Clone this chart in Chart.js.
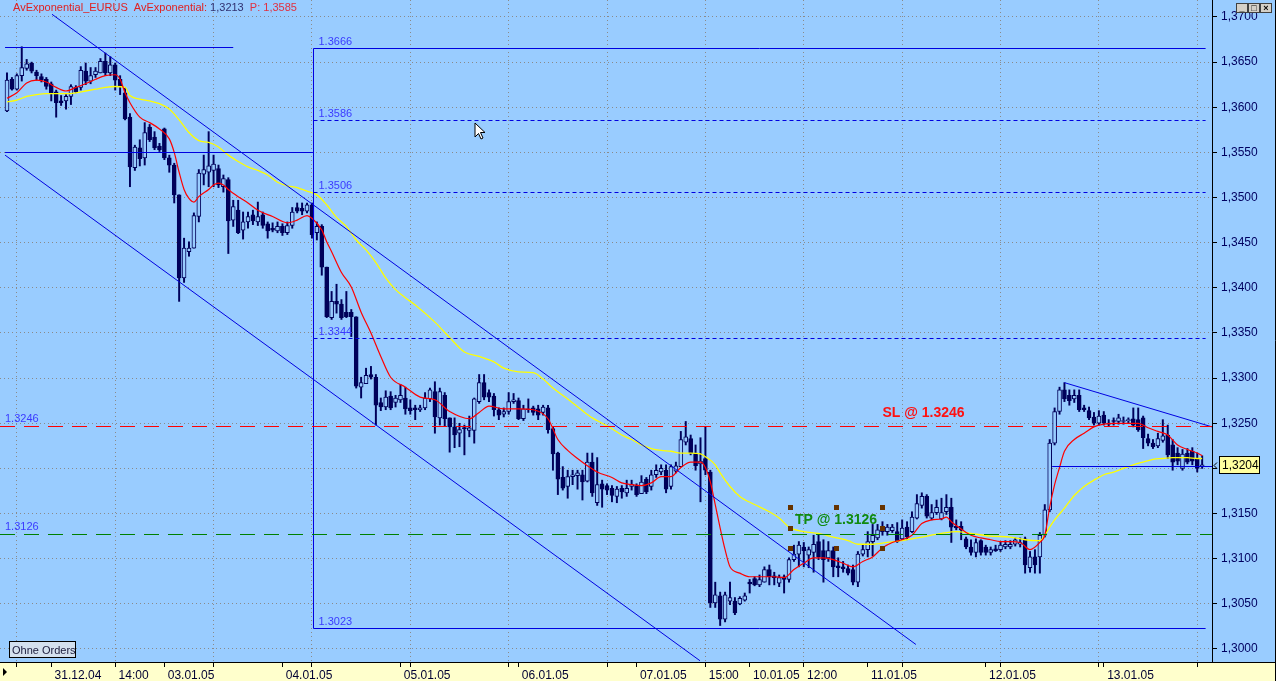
<!DOCTYPE html>
<html>
<head>
<meta charset="utf-8">
<script src="https://cdn.jsdelivr.net/npm/chart.js@4.4.1/dist/chart.umd.min.js"></script>
<style>
  html, body { margin: 0; padding: 0; background: #99ccff; }
  #wrap { position: relative; width: 1276px; height: 681px; }
</style>
</head>
<body>
<div id="wrap"><canvas id="chart"></canvas></div>
<script>
// EURUSD, 1 hour bars, 31.12.04 - 13.01.05
const open = [
  1.3596, 1.3631, 1.3620, 1.3635, 1.3643, 1.3649, 1.3639, 1.3634, 1.3631, 1.3626, 1.3617, 1.3607,
  1.3607, 1.3612, 1.3622, 1.3622, 1.3640, 1.3629, 1.3636, 1.3638, 1.3651, 1.3638, 1.3647, 1.3631,
  1.3616, 1.3589, 1.3533, 1.3555, 1.3544, 1.3578, 1.3567, 1.3557, 1.3576, 1.3544, 1.3536, 1.3503,
  1.3411, 1.3440, 1.3444, 1.3479, 1.3526, 1.3528, 1.3530, 1.3532, 1.3512, 1.3520, 1.3475, 1.3486,
  1.3464, 1.3473, 1.3481, 1.3473, 1.3481, 1.3471, 1.3466, 1.3463, 1.3468, 1.3461, 1.3469, 1.3489,
  1.3488, 1.3485, 1.3492, 1.3461, 1.3468, 1.3423, 1.3367, 1.3385, 1.3382, 1.3373, 1.3373, 1.3368,
  1.3290, 1.3294, 1.3304, 1.3301, 1.3273, 1.3268, 1.3280, 1.3273, 1.3276, 1.3278, 1.3267, 1.3267,
  1.3265, 1.3267, 1.3277, 1.3285, 1.3256, 1.3281, 1.3256, 1.3246, 1.3239, 1.3245, 1.3242, 1.3242,
  1.3274, 1.3295, 1.3284, 1.3280, 1.3265, 1.3260, 1.3263, 1.3274, 1.3275, 1.3255, 1.3266, 1.3267,
  1.3266, 1.3262, 1.3267, 1.3244, 1.3217, 1.3190, 1.3180, 1.3191, 1.3192, 1.3193, 1.3186, 1.3207,
  1.3162, 1.3183, 1.3181, 1.3178, 1.3169, 1.3178, 1.3173, 1.3180, 1.3181, 1.3172, 1.3188, 1.3180,
  1.3193, 1.3196, 1.3198, 1.3180, 1.3197, 1.3202, 1.3229, 1.3233, 1.3217, 1.3205, 1.3211, 1.3196,
  1.3051, 1.3059, 1.3033, 1.3053, 1.3053, 1.3050, 1.3054, 1.3074, 1.3078, 1.3071, 1.3074, 1.3088,
  1.3081, 1.3073, 1.3080, 1.3077, 1.3099, 1.3105, 1.3113, 1.3104, 1.3107, 1.3119, 1.3109, 1.3101,
  1.3109, 1.3092, 1.3091, 1.3089, 1.3088, 1.3074, 1.3105, 1.3110, 1.3119, 1.3123, 1.3130, 1.3130,
  1.3131, 1.3130, 1.3122, 1.3135, 1.3130, 1.3145, 1.3159, 1.3169, 1.3145, 1.3151, 1.3144, 1.3152,
  1.3157, 1.3136, 1.3136, 1.3122, 1.3113, 1.3107, 1.3120, 1.3113, 1.3107, 1.3111, 1.3110, 1.3113,
  1.3113, 1.3116, 1.3116, 1.3122, 1.3090, 1.3102, 1.3102, 1.3126, 1.3154, 1.3228, 1.3263, 1.3287,
  1.3281, 1.3277, 1.3281, 1.3267, 1.3264, 1.3257, 1.3250, 1.3259, 1.3250, 1.3253, 1.3252, 1.3252,
  1.3253, 1.3255, 1.3254, 1.3256, 1.3233, 1.3228, 1.3225, 1.3231, 1.3237, 1.3226, 1.3217, 1.3200,
  1.3217, 1.3219, 1.3210, 1.3202
];
const high = [
  1.3638, 1.3633, 1.3637, 1.3667, 1.3653, 1.3650, 1.3641, 1.3637, 1.3633, 1.3628, 1.3619, 1.3613,
  1.3614, 1.3625, 1.3624, 1.3645, 1.3649, 1.3644, 1.3644, 1.3654, 1.3660, 1.3656, 1.3649, 1.3635,
  1.3622, 1.3593, 1.3558, 1.3564, 1.3583, 1.3581, 1.3573, 1.3560, 1.3577, 1.3547, 1.3538, 1.3503,
  1.3455, 1.3451, 1.3483, 1.3531, 1.3547, 1.3573, 1.3547, 1.3536, 1.3525, 1.3522, 1.3497, 1.3497,
  1.3484, 1.3484, 1.3486, 1.3495, 1.3484, 1.3473, 1.3472, 1.3473, 1.3471, 1.3473, 1.3489, 1.3494,
  1.3494, 1.3494, 1.3494, 1.3473, 1.3470, 1.3423, 1.3396, 1.3404, 1.3387, 1.3396, 1.3376, 1.3368,
  1.3301, 1.3311, 1.3313, 1.3304, 1.3278, 1.3286, 1.3285, 1.3281, 1.3293, 1.3290, 1.3276, 1.3270,
  1.3270, 1.3284, 1.3289, 1.3296, 1.3289, 1.3284, 1.3256, 1.3256, 1.3250, 1.3248, 1.3258, 1.3278,
  1.3304, 1.3304, 1.3287, 1.3283, 1.3267, 1.3267, 1.3284, 1.3283, 1.3278, 1.3270, 1.3277, 1.3269,
  1.3270, 1.3270, 1.3270, 1.3246, 1.3218, 1.3202, 1.3198, 1.3198, 1.3198, 1.3198, 1.3217, 1.3217,
  1.3212, 1.3187, 1.3183, 1.3181, 1.3180, 1.3181, 1.3187, 1.3187, 1.3183, 1.3192, 1.3190, 1.3198,
  1.3204, 1.3204, 1.3204, 1.3204, 1.3207, 1.3241, 1.3252, 1.3237, 1.3226, 1.3234, 1.3246, 1.3198,
  1.3074, 1.3063, 1.3063, 1.3074, 1.3057, 1.3058, 1.3062, 1.3077, 1.3080, 1.3082, 1.3091, 1.3093,
  1.3085, 1.3082, 1.3082, 1.3101, 1.3115, 1.3119, 1.3118, 1.3113, 1.3126, 1.3126, 1.3121, 1.3119,
  1.3113, 1.3101, 1.3097, 1.3093, 1.3093, 1.3108, 1.3115, 1.3130, 1.3138, 1.3138, 1.3141, 1.3138,
  1.3138, 1.3140, 1.3143, 1.3141, 1.3152, 1.3171, 1.3173, 1.3171, 1.3160, 1.3165, 1.3167, 1.3171,
  1.3167, 1.3143, 1.3141, 1.3124, 1.3121, 1.3122, 1.3121, 1.3115, 1.3113, 1.3115, 1.3119, 1.3120,
  1.3120, 1.3123, 1.3123, 1.3124, 1.3108, 1.3110, 1.3129, 1.3160, 1.3232, 1.3267, 1.3290, 1.3295,
  1.3287, 1.3287, 1.3287, 1.3270, 1.3268, 1.3262, 1.3264, 1.3263, 1.3254, 1.3256, 1.3260, 1.3257,
  1.3256, 1.3267, 1.3267, 1.3258, 1.3238, 1.3232, 1.3239, 1.3254, 1.3248, 1.3232, 1.3223, 1.3221,
  1.3222, 1.3223, 1.3217, 1.3214
];
const low = [
  1.3595, 1.3619, 1.3619, 1.3629, 1.3641, 1.3638, 1.3630, 1.3628, 1.3620, 1.3607, 1.3589, 1.3602,
  1.3598, 1.3603, 1.3616, 1.3619, 1.3625, 1.3626, 1.3633, 1.3638, 1.3635, 1.3635, 1.3619, 1.3614,
  1.3586, 1.3512, 1.3530, 1.3535, 1.3536, 1.3562, 1.3553, 1.3551, 1.3542, 1.3528, 1.3494, 1.3385,
  1.3406, 1.3435, 1.3444, 1.3473, 1.3514, 1.3512, 1.3512, 1.3511, 1.3506, 1.3438, 1.3468, 1.3460,
  1.3454, 1.3466, 1.3470, 1.3469, 1.3466, 1.3455, 1.3462, 1.3461, 1.3458, 1.3459, 1.3466, 1.3483,
  1.3481, 1.3483, 1.3455, 1.3453, 1.3414, 1.3367, 1.3365, 1.3372, 1.3365, 1.3367, 1.3346, 1.3289,
  1.3278, 1.3294, 1.3299, 1.3248, 1.3264, 1.3265, 1.3265, 1.3268, 1.3273, 1.3260, 1.3260, 1.3254,
  1.3263, 1.3265, 1.3274, 1.3239, 1.3248, 1.3247, 1.3218, 1.3223, 1.3224, 1.3215, 1.3235, 1.3228,
  1.3272, 1.3276, 1.3274, 1.3258, 1.3254, 1.3257, 1.3260, 1.3272, 1.3254, 1.3253, 1.3262, 1.3259,
  1.3254, 1.3259, 1.3239, 1.3198, 1.3171, 1.3176, 1.3167, 1.3182, 1.3177, 1.3165, 1.3185, 1.3169,
  1.3159, 1.3157, 1.3171, 1.3163, 1.3162, 1.3167, 1.3169, 1.3176, 1.3169, 1.3172, 1.3172, 1.3176,
  1.3190, 1.3193, 1.3173, 1.3177, 1.3195, 1.3202, 1.3226, 1.3215, 1.3198, 1.3163, 1.3193, 1.3046,
  1.3046, 1.3026, 1.3030, 1.3049, 1.3038, 1.3049, 1.3053, 1.3062, 1.3070, 1.3069, 1.3074, 1.3071,
  1.3071, 1.3069, 1.3062, 1.3074, 1.3097, 1.3091, 1.3091, 1.3090, 1.3085, 1.3099, 1.3074, 1.3097,
  1.3080, 1.3080, 1.3085, 1.3082, 1.3071, 1.3069, 1.3103, 1.3102, 1.3103, 1.3121, 1.3126, 1.3126,
  1.3129, 1.3118, 1.3121, 1.3121, 1.3129, 1.3144, 1.3156, 1.3145, 1.3143, 1.3149, 1.3143, 1.3149,
  1.3118, 1.3132, 1.3121, 1.3111, 1.3104, 1.3102, 1.3104, 1.3104, 1.3104, 1.3108, 1.3108, 1.3111,
  1.3111, 1.3114, 1.3113, 1.3084, 1.3085, 1.3084, 1.3084, 1.3124, 1.3152, 1.3226, 1.3260, 1.3274,
  1.3270, 1.3273, 1.3263, 1.3263, 1.3254, 1.3248, 1.3248, 1.3248, 1.3247, 1.3248, 1.3249, 1.3249,
  1.3250, 1.3246, 1.3241, 1.3222, 1.3225, 1.3222, 1.3223, 1.3229, 1.3211, 1.3198, 1.3204, 1.3198,
  1.3205, 1.3204, 1.3196, 1.3200
];
const close = [
  1.3630, 1.3620, 1.3635, 1.3644, 1.3648, 1.3640, 1.3635, 1.3630, 1.3623, 1.3616, 1.3605, 1.3605,
  1.3612, 1.3623, 1.3617, 1.3641, 1.3629, 1.3635, 1.3640, 1.3651, 1.3638, 1.3647, 1.3630, 1.3623,
  1.3587, 1.3534, 1.3556, 1.3543, 1.3572, 1.3564, 1.3555, 1.3553, 1.3544, 1.3536, 1.3503, 1.3411,
  1.3444, 1.3444, 1.3480, 1.3527, 1.3531, 1.3535, 1.3537, 1.3514, 1.3521, 1.3474, 1.3490, 1.3461,
  1.3473, 1.3479, 1.3474, 1.3479, 1.3469, 1.3463, 1.3464, 1.3468, 1.3461, 1.3469, 1.3484, 1.3485,
  1.3485, 1.3492, 1.3459, 1.3468, 1.3423, 1.3368, 1.3385, 1.3382, 1.3367, 1.3368, 1.3368, 1.3291,
  1.3295, 1.3303, 1.3301, 1.3270, 1.3268, 1.3279, 1.3267, 1.3278, 1.3281, 1.3266, 1.3264, 1.3265,
  1.3267, 1.3278, 1.3287, 1.3257, 1.3285, 1.3255, 1.3246, 1.3237, 1.3243, 1.3244, 1.3245, 1.3277,
  1.3295, 1.3279, 1.3279, 1.3265, 1.3259, 1.3263, 1.3274, 1.3276, 1.3255, 1.3266, 1.3265, 1.3262,
  1.3259, 1.3268, 1.3243, 1.3216, 1.3188, 1.3178, 1.3191, 1.3193, 1.3195, 1.3185, 1.3207, 1.3173,
  1.3182, 1.3177, 1.3176, 1.3170, 1.3177, 1.3174, 1.3178, 1.3182, 1.3171, 1.3185, 1.3174, 1.3193,
  1.3198, 1.3200, 1.3177, 1.3202, 1.3203, 1.3232, 1.3235, 1.3217, 1.3203, 1.3208, 1.3198, 1.3051,
  1.3060, 1.3033, 1.3060, 1.3057, 1.3040, 1.3056, 1.3059, 1.3072, 1.3071, 1.3077, 1.3088, 1.3080,
  1.3079, 1.3079, 1.3077, 1.3099, 1.3105, 1.3115, 1.3109, 1.3110, 1.3116, 1.3102, 1.3099, 1.3109,
  1.3091, 1.3090, 1.3089, 1.3084, 1.3074, 1.3105, 1.3110, 1.3119, 1.3126, 1.3132, 1.3136, 1.3135,
  1.3135, 1.3119, 1.3134, 1.3124, 1.3146, 1.3161, 1.3169, 1.3147, 1.3151, 1.3157, 1.3151, 1.3157,
  1.3135, 1.3134, 1.3132, 1.3113, 1.3107, 1.3118, 1.3107, 1.3107, 1.3110, 1.3109, 1.3115, 1.3116,
  1.3116, 1.3121, 1.3118, 1.3093, 1.3102, 1.3093, 1.3126, 1.3154, 1.3228, 1.3263, 1.3287, 1.3277,
  1.3275, 1.3281, 1.3265, 1.3265, 1.3256, 1.3250, 1.3258, 1.3250, 1.3249, 1.3252, 1.3256, 1.3253,
  1.3254, 1.3248, 1.3243, 1.3234, 1.3228, 1.3224, 1.3233, 1.3236, 1.3215, 1.3207, 1.3208, 1.3216,
  1.3207, 1.3208, 1.3200, 1.3204
];
const bars = open.map((_, i) => i);

// the two moving averages at these bars
const redBars = [0, 2, 4, 6, 8, 10, 12, 14, 16, 18, 20, 22, 23, 24, 25, 27, 29, 31, 33, 34, 35, 36, 37, 38, 39,
  41, 42, 43, 44, 45, 47, 49, 51, 54, 57, 59, 61, 62, 64, 65, 66, 68, 70, 72, 74, 76, 78, 81, 84, 87, 90,
  94, 96, 98, 101, 104, 107, 110, 112, 114, 116, 118, 120, 123, 125, 127, 129, 131, 133, 135, 137, 139,
  141, 142, 143, 144, 145, 146, 147, 149, 151, 153, 156, 158, 160, 162, 164, 166, 168, 170, 172, 174, 176,
  178, 180, 182, 184, 186, 188, 190, 191, 192, 194, 196, 198, 200, 202, 204, 206, 208, 210, 211, 212, 213,
  214, 215, 217, 219, 221, 223, 225, 228, 230, 232, 234, 236, 238, 240, 242, 243];
const redEma = [1.3610, 1.3616, 1.3627, 1.3630, 1.3628, 1.3622, 1.3618, 1.3622, 1.3626, 1.3631, 1.3635, 1.3636,
  1.3631, 1.3616, 1.3605, 1.3589, 1.3583, 1.3576, 1.3565, 1.3550, 1.3528, 1.3509, 1.3499, 1.3495, 1.3501,
  1.3509, 1.3514, 1.3516, 1.3514, 1.3509, 1.3501, 1.3494, 1.3486, 1.3479, 1.3472, 1.3475, 1.3480, 1.3477,
  1.3464, 1.3451, 1.3440, 1.3417, 1.3401, 1.3373, 1.3350, 1.3324, 1.3301, 1.3290, 1.3279, 1.3276, 1.3263,
  1.3255, 1.3262, 1.3269, 1.3266, 1.3266, 1.3265, 1.3255, 1.3232, 1.3220, 1.3211, 1.3203, 1.3196, 1.3190,
  1.3184, 1.3182, 1.3181, 1.3184, 1.3191, 1.3191, 1.3201, 1.3207, 1.3207, 1.3201, 1.3185, 1.3160, 1.3134,
  1.3110, 1.3091, 1.3084, 1.3080, 1.3080, 1.3080, 1.3079, 1.3088, 1.3095, 1.3101, 1.3101, 1.3099, 1.3095,
  1.3091, 1.3097, 1.3102, 1.3112, 1.3118, 1.3121, 1.3126, 1.3139, 1.3143, 1.3144, 1.3146, 1.3141, 1.3133,
  1.3126, 1.3123, 1.3121, 1.3119, 1.3119, 1.3118, 1.3110, 1.3118, 1.3126, 1.3157, 1.3182, 1.3201, 1.3219,
  1.3232, 1.3239, 1.3246, 1.3249, 1.3250, 1.3250, 1.3250, 1.3245, 1.3241, 1.3237, 1.3226, 1.3221, 1.3217, 1.3214];
const yellowBars = [0, 2, 4, 6, 8, 10, 12, 14, 16, 18, 20, 22, 24, 25, 27, 29, 31, 33, 35, 37, 39, 41, 43, 45,
  47, 49, 51, 53, 55, 57, 59, 61, 63, 65, 67, 69, 71, 73, 75, 77, 79, 81, 83, 87, 90, 93, 96, 99, 101, 104,
  107, 109, 111, 114, 117, 119, 121, 123, 125, 127, 129, 131, 133, 135, 137, 139, 141, 142, 144, 145, 147,
  149, 152, 155, 157, 159, 162, 165, 168, 171, 173, 176, 179, 182, 184, 186, 190, 193, 196, 200, 204, 207,
  210, 211, 212, 213, 215, 217, 219, 221, 223, 225, 227, 229, 231, 233, 235, 237, 240, 242, 243];
const yellowEma = [1.3606, 1.3608, 1.3612, 1.3614, 1.3615, 1.3615, 1.3615, 1.3616, 1.3618, 1.3620, 1.3622, 1.3623,
  1.3622, 1.3613, 1.3609, 1.3607, 1.3604, 1.3598, 1.3586, 1.3572, 1.3563, 1.3561, 1.3556, 1.3547, 1.3540,
  1.3534, 1.3530, 1.3525, 1.3517, 1.3513, 1.3511, 1.3507, 1.3503, 1.3492, 1.3478, 1.3468, 1.3453, 1.3442,
  1.3428, 1.3411, 1.3398, 1.3389, 1.3381, 1.3362, 1.3345, 1.3329, 1.3324, 1.3318, 1.3311, 1.3307, 1.3306,
  1.3299, 1.3289, 1.3277, 1.3264, 1.3256, 1.3250, 1.3244, 1.3237, 1.3232, 1.3226, 1.3222, 1.3220, 1.3219,
  1.3217, 1.3217, 1.3216, 1.3213, 1.3204, 1.3195, 1.3180, 1.3169, 1.3160, 1.3152, 1.3145, 1.3135, 1.3130,
  1.3128, 1.3124, 1.3120, 1.3116, 1.3116, 1.3118, 1.3120, 1.3122, 1.3124, 1.3128, 1.3130, 1.3128, 1.3125,
  1.3124, 1.3121, 1.3120, 1.3126, 1.3135, 1.3143, 1.3156, 1.3170, 1.3180, 1.3187, 1.3193, 1.3196, 1.3200,
  1.3204, 1.3207, 1.3210, 1.3211, 1.3212, 1.3212, 1.3211, 1.3211];

// time axis
const dateBars = [9, 22, 32, 56, 80, 104, 128, 142, 151, 162, 175, 199, 223];
const dateLabels = ['31.12.04', '14:00', '03.01.05', '04.01.05', '05.01.05', '06.01.05', '07.01.05',
  '15:00', '10.01.05', '12:00', '11.01.05', '12.01.05', '13.01.05'];
const gridBars = [2, 22, 42, 62, 82, 102, 122, 142, 162, 182, 202, 222, 242];

// drawings on the chart
const fibLevels = [1.3666, 1.3586, 1.3506, 1.3344, 1.3023];
const fibStart = 62.2, fibEnd = 243.7;
const slPrice = 1.3246, tpPrice = 1.3126;
const lastPrice = 1.3204;
const trendLines = [
  [[9.15, 1.3703], [184.8, 1.3005]],
  [[-0.4, 1.3547], [140.9, 1.2987]],
  [[215, 1.3295], [245, 1.3246]],
  [[-0.4, 1.3667], [46, 1.3667]],
  [[-0.4, 1.3550], [62.2, 1.3550]],
  [[212.5, 1.3203], [245, 1.3203]]
];
const handleBars = [159.2, 168.6, 177.9];
const handlePrices = [1.3157, 1.3134, 1.3112];

const BG = '#99ccff';
const STRIP = '#ffffcc';
const NAVY = '#00005a';
const BLUE = '#0000e0';
const FONT = 'Arial, "Liberation Sans", sans-serif';

Chart.defaults.font.family = FONT;

function fullSeries(idx, vals) {
  const out = bars.map(() => null);
  idx.forEach((b, k) => { out[b] = vals[k]; });
  return out;
}

function seg(ctx, x1, y1, x2, y2) {
  ctx.beginPath();
  ctx.moveTo(x1, y1);
  ctx.lineTo(x2, y2);
  ctx.stroke();
}

const drawings = {
  id: 'drawings',
  beforeDraw(chart) {
    const { ctx, width, height, chartArea: a } = chart;
    ctx.save();
    ctx.fillStyle = BG;
    ctx.fillRect(0, 0, width, height);
    ctx.fillStyle = STRIP;
    ctx.fillRect(0, a.bottom, width, height - a.bottom);
    ctx.restore();
  },
  afterDatasetsDraw(chart) {
    const { ctx, chartArea: a, scales: { x, y } } = chart;
    const X = v => x.getPixelForValue(v);
    const Y = v => Math.round(y.getPixelForValue(v)) + 0.5;
    ctx.save();
    ctx.beginPath();
    ctx.rect(a.left, a.top, a.right - a.left, a.bottom - a.top);
    ctx.clip();
    ctx.lineWidth = 1;

    // fibonacci box
    ctx.strokeStyle = BLUE;
    const fx = Math.round(X(fibStart)) + 0.5;
    seg(ctx, fx, Y(fibLevels[0]), fx, Y(fibLevels[fibLevels.length - 1]));
    fibLevels.forEach((p, k) => {
      const solid = k === 0 || k === fibLevels.length - 1;
      ctx.setLineDash(solid ? [] : [4, 3]);
      seg(ctx, fx, Y(p), X(fibEnd), Y(p));
    });
    ctx.setLineDash([]);
    ctx.font = '11px ' + FONT;
    ctx.fillStyle = '#3a3aff';
    ctx.textBaseline = 'alphabetic';
    fibLevels.forEach(p => ctx.fillText(p.toFixed(4), fx + 5, Y(p) - 4));

    // trend lines
    ctx.strokeStyle = BLUE;
    trendLines.forEach(t => {
      const flat = t[0][1] === t[1][1];
      const y1 = flat ? Y(t[0][1]) : y.getPixelForValue(t[0][1]);
      const y2 = flat ? Y(t[1][1]) : y.getPixelForValue(t[1][1]);
      seg(ctx, X(t[0][0]), y1, X(t[1][0]), y2);
    });

    // stop loss / take profit
    ctx.lineWidth = 1;
    ctx.setLineDash([15, 9]);
    ctx.strokeStyle = '#ff0000';
    seg(ctx, a.left, Y(slPrice) - 1, a.right, Y(slPrice) - 1);
    ctx.strokeStyle = '#008000';
    seg(ctx, a.left, Y(tpPrice) - 1, a.right, Y(tpPrice) - 1);
    ctx.setLineDash([]);

    ctx.font = '11px ' + FONT;
    ctx.fillStyle = '#3a3aff';
    ctx.fillText(slPrice.toFixed(4), a.left + 5, Y(slPrice) - 6);
    ctx.fillText(tpPrice.toFixed(4), a.left + 5, Y(tpPrice) - 6);

    ctx.font = 'bold 14px ' + FONT;
    ctx.fillStyle = '#ff1010';
    ctx.fillText('SL @ ' + slPrice.toFixed(4), X(178), Y(slPrice) - 11);
    ctx.fillStyle = '#108a10';
    ctx.fillText('TP @ ' + tpPrice.toFixed(4), X(160.2), Y(tpPrice) - 12);

    ctx.fillStyle = '#663300';
    handleBars.forEach((b, i) => handlePrices.forEach((p, j) => {
      if (i === 1 && j === 1) return;
      ctx.fillRect(Math.round(X(b)) - 2, Math.round(y.getPixelForValue(p)) - 2, 5, 5);
    }));
    ctx.restore();
  },
  afterDraw(chart) {
    const { ctx, width, height, chartArea: a, scales: { y } } = chart;
    ctx.save();
    ctx.strokeStyle = '#000';
    ctx.lineWidth = 1;
    seg(ctx, 0, a.bottom + 0.5, width, a.bottom + 0.5);
    seg(ctx, width - 0.5, 0, width - 0.5, height);

    // small play arrow in the time strip
    ctx.fillStyle = '#000';
    ctx.beginPath();
    ctx.moveTo(3, 668); ctx.lineTo(7, 672); ctx.lineTo(3, 676); ctx.closePath();
    ctx.fill();

    // last price box
    const py = Math.round(y.getPixelForValue(lastPrice));
    ctx.fillStyle = '#ffffa0';
    ctx.fillRect(a.right + 7.5, py - 8.5, 40, 17);
    ctx.strokeRect(a.right + 7.5, py - 8.5, 40, 17);
    ctx.fillStyle = '#000';
    ctx.font = '12px ' + FONT;
    ctx.textBaseline = 'middle';
    ctx.fillText(lastPrice.toFixed(4).replace('.', ','), a.right + 10, py + 1);
    seg(ctx, a.right + 2, py + 0.5, a.right + 5, py - 2.5);
    seg(ctx, a.right + 2, py + 0.5, a.right + 5, py + 3.5);

    // header text
    ctx.textBaseline = 'alphabetic';
    ctx.font = '11px ' + FONT;
    let tx = 13;
    [['AvExponential_EURUS  AvExponential: ', '#e02020'], ['1,3213', '#303070'], ['  P: 1,3585', '#e03040']]
      .forEach(([s, c]) => { ctx.fillStyle = c; ctx.fillText(s, tx, 11); tx += ctx.measureText(s).width; });

    // "Ohne Orders" button
    ctx.fillStyle = '#d4e0ee';
    ctx.fillRect(9.5, 641.5, 66, 16);
    ctx.strokeStyle = '#000';
    ctx.strokeRect(9.5, 641.5, 66, 16);
    ctx.fillStyle = '#202040';
    ctx.font = '11px ' + FONT;
    ctx.fillText('Ohne Orders', 12, 654);

    // window buttons
    ['_', '\u25a1', '\u00d7'].forEach((g, k) => {
      const bx = 1236 + k * 12;
      ctx.fillStyle = '#d4d0c8';
      ctx.fillRect(bx + 0.5, 3.5, 11, 9);
      ctx.strokeStyle = '#404040';
      ctx.strokeRect(bx + 0.5, 3.5, 11, 9);
      ctx.fillStyle = '#000';
      ctx.font = 'bold 9px ' + FONT;
      ctx.textAlign = 'center';
      ctx.fillText(g, bx + 6, 11);
      ctx.textAlign = 'left';
    });

    // mouse pointer
    ctx.beginPath();
    ctx.moveTo(475, 123); ctx.lineTo(475, 137); ctx.lineTo(478.5, 133.5); ctx.lineTo(481, 139);
    ctx.lineTo(483, 138); ctx.lineTo(480.5, 132.5); ctx.lineTo(485, 132.5); ctx.closePath();
    ctx.fillStyle = '#ffffff';
    ctx.fill();
    ctx.strokeStyle = '#000';
    ctx.stroke();
    ctx.restore();
  }
};

new Chart(document.getElementById('chart'), {
  type: 'bar',
  data: {
    labels: bars,
    datasets: [
      {
        type: 'line',
        data: fullSeries(redBars, redEma),
        borderColor: '#ff0000',
        borderWidth: 1.2,
        pointRadius: 0,
        spanGaps: true,
        cubicInterpolationMode: 'monotone',
        order: 0
      },
      {
        type: 'line',
        data: fullSeries(yellowBars, yellowEma),
        borderColor: '#ffff00',
        borderWidth: 1.3,
        pointRadius: 0,
        spanGaps: true,
        cubicInterpolationMode: 'monotone',
        order: 0
      },
      {
        // candle bodies
        data: bars.map(i => [open[i], close[i]]),
        grouped: false,
        barThickness: 4,
        minBarLength: 1,
        borderWidth: 1,
        borderSkipped: false,
        borderColor: NAVY,
        backgroundColor: c => close[c.dataIndex] >= open[c.dataIndex] ? BG : NAVY,
        order: 1
      },
      {
        // wicks
        data: bars.map(i => [low[i], high[i]]),
        grouped: false,
        barThickness: 1.3,
        backgroundColor: NAVY,
        order: 2
      }
    ]
  },
  options: {
    responsive: true,
    maintainAspectRatio: false,
    animation: false,
    events: [],
    layout: { padding: 0 },
    plugins: { legend: { display: false }, tooltip: { enabled: false } },
    scales: {
      x: {
        type: 'linear',
        position: 'bottom',
        min: -1.423,
        max: 245.0,
        offset: false,
        afterBuildTicks: s => {
          s.ticks = [...new Set([...gridBars, ...dateBars])].sort((p, q) => p - q).map(v => ({ value: v }));
        },
        afterFit: s => { s.height = 19; s.paddingLeft = 0; s.paddingRight = 0; },
        ticks: {
          autoSkip: false,
          maxRotation: 0,
          minRotation: 0,
          align: 'start',
          padding: 1,
          color: '#000033',
          font: { size: 12 },
          callback: v => {
            const k = dateBars.indexOf(v);
            return k >= 0 ? ' ' + dateLabels[k] : '';
          }
        },
        grid: {
          offset: false,
          color: c => gridBars.includes(c.tick && c.tick.value) ? '#8a8a8a' : 'rgba(0,0,0,0)',
          tickColor: '#000',
          tickLength: 5,
          tickBorderDash: []
        },
        border: { display: true, color: '#000', dash: [1, 3] }
      },
      y: {
        type: 'linear',
        position: 'right',
        min: 1.29856,
        max: 1.37188,
        afterFit: s => { s.width = 64; s.paddingTop = 0; s.paddingBottom = 0; },
        ticks: {
          stepSize: 0.005,
          includeBounds: false,
          padding: 4,
          color: '#000060',
          font: { size: 12 },
          callback: v => v.toFixed(4).replace('.', ',')
        },
        grid: {
          color: '#8a8a8a',
          tickColor: '#000',
          tickLength: 5,
          tickBorderDash: []
        },
        border: { display: true, color: '#000', dash: [1, 3] }
      }
    }
  },
  plugins: [drawings]
});
</script>
</body>
</html>
